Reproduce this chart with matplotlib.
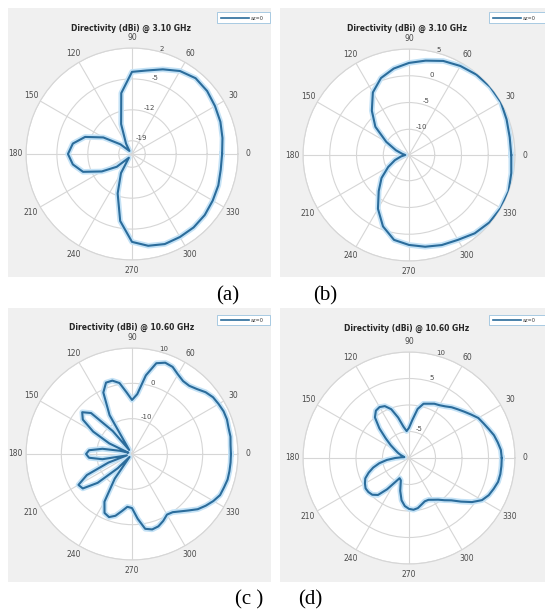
import numpy as np
import matplotlib
matplotlib.use("Agg")
import matplotlib.pyplot as plt
from matplotlib.patches import Rectangle
from matplotlib.lines import Line2D

# ---- pattern data (directivity in dBi vs. angle in degrees) ----
ang_a = list(range(0, 360, 10))
dir_a = [-1.6, -1.2, -0.7, -0.3, 0.2, 0.4, -0.3, -1.6, -2.8, -3.4,
         -8.0, -14.8, -19.3, -21.1, -18.6, -14.5, -10.7, -8.4, -7.5, -8.4,
         -10.2, -14.1, -17.5, -20.9, -17.0, -12.5, -6.6, -2.1, -0.9, -0.3,
         -0.3, -0.3, -0.5, -0.9, -1.2, -1.6]

ang_b = list(range(0, 360, 10))
dir_b = [4.3, 4.3, 4.6, 5.0, 5.0, 4.8, 4.4, 3.9, 3.1, 2.4,
         1.6, 0.5, -1.3, -4.0, -6.6, -9.9, -12.2, -13.5, -14.1, -13.3,
         -12.0, -10.3, -8.1, -6.0, -3.2, -0.6, 1.3, 2.0, 2.6, 3.1,
         3.5, 4.3, 4.8, 5.0, 5.0, 4.6]

ang_c = list(range(0, 360, 5))
dir_c = [8.0, 8.0, 8.3, 8.3, 8.6, 8.6, 8.3, 8.0, 7.2, 6.0,
         5.2, 5.2, 6.0, 7.2, 7.5, 6.6, 2.6, -3.0, -4.7, -2.5,
         0.4, 1.5, 1.5, -0.8, -7.3, -18.6, -11.5, -3.6, -1.6, -3.0,
         -7.3, -12.9, -18.9, -16.5, -11.5, -7.8, -7.0, -7.8, -11.5, -18.5,
         -12.9, -5.9, -2.5, -3.0, -7.3, -14.3, -18.9, -11.5, -4.4, -1.6,
         -1.0, -1.9, -3.6, -5.0, -4.7, -1.6, 1.5, 2.1, 1.8, 0.9,
         -0.2, 0.1, 1.2, 2.6, 4.3, 5.5, 6.6, 7.5, 7.7, 8.0,
         8.0, 8.0]

ang_d = list(range(0, 360, 5))
dir_d = [7.5, 7.4, 7.0, 6.6, 6.0, 5.5, 5.1, 4.3, 3.6, 3.0,
         2.5, 1.9, 1.5, 1.3, 0.9, 0.6, -0.6, -2.8, -4.3, -4.9,
         -4.0, -2.1, -0.2, 0.8, 1.1, 0.9, 0.0, -2.1, -4.3, -5.8,
         -7.0, -7.7, -8.3, -8.9, -9.1, -8.5, -7.4, -5.8, -4.3, -3.0,
         -1.9, -0.9, -0.4, 0.0, 0.0, -0.2, -0.9, -2.8, -4.7, -5.8,
         -5.5, -3.6, -1.9, -0.9, -0.4, -0.2, -0.4, -0.9, -1.3, -1.3,
         -0.9, -0.4, 0.4, 1.3, 2.8, 4.5, 5.9, 6.6, 7.0, 7.4,
         7.5, 7.5]

titles = ["Directivity (dBi) @ 3.10 GHz", "Directivity (dBi) @ 3.10 GHz",
          "Directivity (dBi) @ 10.60 GHz", "Directivity (dBi) @ 10.60 GHz"]
captions = ["(a)", "(b)", "(c )", "(d)"]
legend_label = "az=0"

# radial limits and ring ticks of each chart
r_limits = [(-22, 2), (-14.8, 5), (-20, 10), (-10, 10)]
r_ticks = [[-19, -12, -5, 2], [-10, -5, 0, 5], [-10, 0, 10], [-5, 0, 5, 10]]

theta_ticks = list(range(0, 360, 30))

# ---- layout (pixels) ----
W, H = 545, 612
fig = plt.figure(figsize=(W / 100, H / 100), dpi=100)
fig.patch.set_facecolor("white")


def fx(px):
    return px / W


def fy(py):
    return 1 - py / H


panels = [
    dict(box=(8, 8, 271, 277), center=(132, 154), title_xy=(131, 28), leg=(217, 12, 270, 23)),
    dict(box=(280, 8, 545, 277), center=(409, 155), title_xy=(407, 28), leg=(489, 12, 545, 23)),
    dict(box=(8, 308, 271, 582), center=(132, 454), title_xy=(132, 327), leg=(217, 315, 270, 325)),
    dict(box=(280, 308, 545, 582), center=(409, 458), title_xy=(407, 328), leg=(489, 315, 545, 325)),
]
R = 106
caption_xy = [(228, 296), (325, 296), (249, 600), (310, 600)]

angles = [ang_a, ang_b, ang_c, ang_d]
values = [dir_a, dir_b, dir_c, dir_d]

line_color = "#2b6c9b"
halo_color = "#c4e2f6"
grid_color = "#d6d6d6"
label_color = "#4a4a4a"

for i, p in enumerate(panels):
    x0, y0, x1, y1 = p["box"]
    fig.patches.append(Rectangle((fx(x0), fy(y1)), (x1 - x0) / W, (y1 - y0) / H,
                                 transform=fig.transFigure, facecolor="#f0f0f0",
                                 edgecolor="none", zorder=-10))
    cx, cy = p["center"]
    ax = fig.add_axes([fx(cx - R), fy(cy + R), 2 * R / W, 2 * R / H], projection="polar")
    ax.set_zorder(1)
    ax.set_facecolor("white")

    th = np.deg2rad(angles[i] + [angles[i][0]])
    rv = values[i] + [values[i][0]]
    ax.plot(th, rv, color=halo_color, lw=4.0, solid_joinstyle="round", zorder=3)
    ax.plot(th, rv, color=line_color, lw=1.5, solid_joinstyle="round", zorder=4)

    rmin, rmax = r_limits[i]
    ax.set_ylim(rmin, rmax)
    ax.set_yticks(r_ticks[i])
    ax.set_yticklabels([str(t) for t in r_ticks[i]], fontsize=5, color=label_color)
    ax.set_rlabel_position(75)
    ax.set_thetagrids(theta_ticks, [str(t) for t in theta_ticks], fontsize=5.5, color=label_color)
    ax.tick_params(axis="x", pad=0.5, length=0)
    ax.tick_params(axis="y", length=0)
    ax.grid(True, color=grid_color, lw=0.8)
    ax.spines["polar"].set_color(grid_color)
    ax.spines["polar"].set_linewidth(0.8)

    tx, ty = p["title_xy"]
    fig.text(fx(tx), fy(ty), titles[i], ha="center", va="center",
             fontsize=5.5, fontweight="bold", color="#262626", zorder=6)

    lx0, ly0, lx1, ly1 = p["leg"]
    fig.patches.append(Rectangle((fx(lx0), fy(ly1)), (lx1 - lx0) / W, (ly1 - ly0) / H,
                                 transform=fig.transFigure, facecolor="white",
                                 edgecolor="#9cc3df", lw=0.6, zorder=5))
    ym = (ly0 + ly1) / 2
    fig.lines.append(Line2D([fx(lx0 + 4), fx(lx0 + 32)], [fy(ym), fy(ym)],
                            transform=fig.transFigure, color=line_color, lw=1.2, zorder=6))
    fig.text(fx(lx0 + 34), fy(ym + 1), legend_label, ha="left", va="center",
             fontsize=3.5, color="#333333", zorder=6)

for cap, (x, y) in zip(captions, caption_xy):
    fig.text(fx(x), fy(y), cap, ha="center", va="center", fontsize=15,
             family="Liberation Serif", color="black")

fig.savefig("out.png", dpi=100)
